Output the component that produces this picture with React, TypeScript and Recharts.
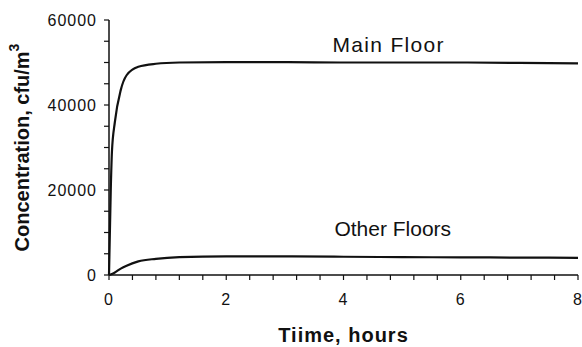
import { LineChart, Line, XAxis, YAxis, ReferenceDot, Label } from 'recharts';

// hours since release
const time = [0, 0.03, 0.05, 0.1, 0.2, 0.3, 0.5, 0.8, 1.2, 2, 3, 4, 5, 6, 7, 8];
// airborne concentration, cfu/m3
const mainFloor = [0, 20000, 29000, 36000, 43500, 47000, 49000, 49700, 50000, 50100, 50100, 50000, 50000, 50000, 49900, 49800];
const otherFloors = [0, 120, 250, 600, 1500, 2200, 3200, 3800, 4200, 4400, 4400, 4300, 4200, 4150, 4100, 4050];

const xTicks = [0, 0.4, 0.8, 1.2, 1.6, 2, 2.4, 2.8, 3.2, 3.6, 4, 4.4, 4.8, 5.2, 5.6, 6, 6.4, 6.8, 7.2, 7.6, 8];
const xLabels = [0, 2, 4, 6, 8];
const yTicks = [0, 5000, 10000, 15000, 20000, 25000, 30000, 35000, 40000, 45000, 50000, 55000, 60000];
const yLabels = [0, 20000, 40000, 60000];

const data = time.map((t, i) => ({ t, main: mainFloor[i], other: otherFloors[i] }));

const FONT = 'Arial, "Liberation Sans", Helvetica, sans-serif';
const INK = '#111';

const tickStyle = { fill: INK, fontSize: 16, fontFamily: FONT, letterSpacing: 1 };

function YTitle({ viewBox }: any) {
  const cx = 22;
  const cy = viewBox.y + viewBox.height / 2;
  return (
    <text
      x={cx}
      y={cy}
      transform={`rotate(-90, ${cx}, ${cy})`}
      textAnchor="middle"
      dominantBaseline="central"
      fill={INK}
      fontFamily={FONT}
      fontSize={20}
      fontWeight="bold"
    >
      Concentration, cfu/m
      <tspan dy={-8} fontSize={14}>3</tspan>
    </text>
  );
}

function XTitle({ viewBox }: any) {
  return (
    <text
      x={viewBox.x + viewBox.width / 2}
      y={viewBox.y + 67}
      textAnchor="middle"
      fill={INK}
      fontFamily={FONT}
      fontSize={20}
      fontWeight="bold"
      letterSpacing={1}
    >
      Tiime, hours
    </text>
  );
}

export default function App() {
  return (
    <div style={{ position: 'absolute', left: 0, top: 0, background: '#fff' }}>
      <LineChart width={582} height={347} data={data} margin={{ top: 20, right: 4, bottom: 0, left: 0 }}>
        <XAxis
          dataKey="t"
          type="number"
          domain={[0, 8]}
          ticks={xTicks}
          interval={0}
          tickFormatter={(v: number) => (xLabels.includes(v) ? String(v) : '')}
          tick={tickStyle}
          tickSize={5}
          tickMargin={14}
          height={72}
          stroke={INK}
          strokeWidth={1.5}
          tickLine={{ stroke: INK, strokeWidth: 1.2 }}
        >
          <Label content={XTitle} />
        </XAxis>
        <YAxis
          type="number"
          domain={[0, 60000]}
          ticks={yTicks}
          interval={0}
          tickFormatter={(v: number) => (yLabels.includes(v) ? String(v) : '')}
          tick={tickStyle}
          tickSize={5}
          tickMargin={7}
          width={109}
          stroke={INK}
          strokeWidth={1.5}
          tickLine={{ stroke: INK, strokeWidth: 1.2 }}
        >
          <Label content={YTitle} />
        </YAxis>
        <Line
          type="monotone"
          dataKey="main"
          stroke={INK}
          strokeWidth={2.2}
          dot={false}
          isAnimationActive={false}
        />
        <Line
          type="monotone"
          dataKey="other"
          stroke={INK}
          strokeWidth={2.2}
          dot={false}
          isAnimationActive={false}
        />
        <ReferenceDot
          x={4.77}
          y={54300}
          r={0}
          fill="none"
          stroke="none"
          label={{ value: 'Main Floor', position: 'center', fill: INK, fontSize: 21, fontFamily: FONT, letterSpacing: 1.3 }}
        />
        <ReferenceDot
          x={4.84}
          y={11000}
          r={0}
          fill="none"
          stroke="none"
          label={{ value: 'Other Floors', position: 'center', fill: INK, fontSize: 21, fontFamily: FONT }}
        />
      </LineChart>
    </div>
  );
}
